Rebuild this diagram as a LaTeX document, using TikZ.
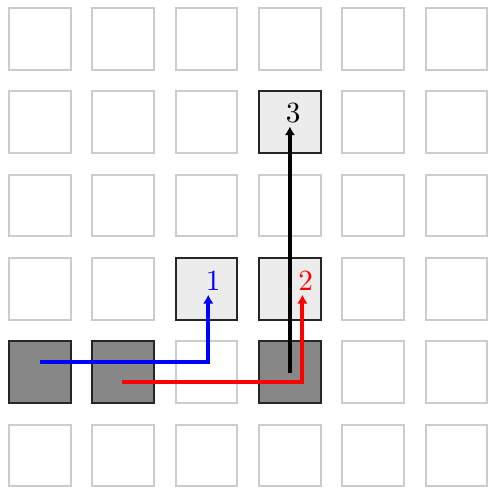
\documentclass[tikz,border=0pt]{standalone}
\usetikzlibrary{arrows.meta}
\begin{document}
\begin{tikzpicture}[
  emptycell/.style={draw=gray!40, fill=white, line width=0.7pt, minimum size=0.74cm, inner sep=0pt},
  darkcell/.style={draw=black!85, fill=black!47, line width=0.7pt, minimum size=0.74cm, inner sep=0pt},
  lightcell/.style={draw=black!85, fill=gray!15, line width=0.7pt, minimum size=0.74cm, inner sep=0pt},
  route/.style={line width=1.4pt, -{Latex[length=3pt,width=3.6pt]}},
  lbl/.style={inner sep=0pt, font=\normalsize}
]
\useasboundingbox (-0.48,0.468) rectangle (5.366,-5.414);
% background grid
\foreach \i in {0,...,5}{
  \foreach \j in {0,...,5}{
    \node[emptycell] (c\i\j) at (\i,-\j) {};
  }
}
% occupied cells
\node[darkcell] (d0) at (0,-4) {};
\node[darkcell] (d1) at (1,-4) {};
\node[darkcell] (d3) at (3,-4) {};
\node[lightcell] (t1) at (2,-3) {};
\node[lightcell] (t2) at (3,-3) {};
\node[lightcell] (t3) at (3,-1) {};
% labels
\node[lbl, text=blue] (l1) at (2.08,-2.9) {1};
\node[lbl, text=red] (l2) at (3.19,-2.9) {2};
\node[lbl, text=black] (l3) at (3.04,-0.89) {3};
% route coordinates
\coordinate (bs) at (0,-3.88);
\coordinate (be) at (2.02,-3.07);
\coordinate (rs) at (0.98,-4.12);
\coordinate (re) at (3.15,-3.07);
\coordinate (ks) at (3.0,-4.01);
\coordinate (ke) at (3.0,-1.05);
% routes
\draw[route, blue] (bs) -| (be);
\draw[route, red] (rs) -| (re);
\draw[route, black] (ks) -- (ke);
\end{tikzpicture}
\end{document}
